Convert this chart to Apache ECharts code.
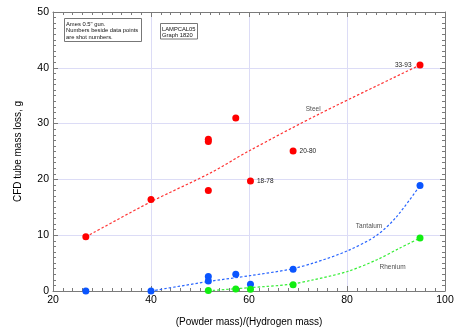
<!DOCTYPE html>
<html>
<head>
<meta charset="utf-8">
<script src="https://cdn.jsdelivr.net/npm/echarts@6/dist/echarts.min.js"></script>
<style>
html,body{margin:0;padding:0;background:#fff;}
#c{width:467px;height:334px;}
</style>
</head>
<body>
<div id="c"></div>
<script>
// ---- data ----
var steelX = [26.7, 40, 51.7, 51.7, 51.7, 57.3, 60.3, 69, 94.9];
var steelY = [9.7, 16.4, 18.0, 26.8, 27.2, 31.0, 19.7, 25.1, 40.5];
var steelShot = ['', '', '', '', '', '', '18-78', '20-80', '33-93'];

var tantalumX = [26.7, 40, 51.7, 51.7, 57.3, 60.3, 69, 94.9];
var tantalumY = [0, 0, 2.6, 1.8, 3.0, 1.2, 3.9, 18.9];

var rheniumX = [51.7, 57.3, 60.3, 69, 94.9];
var rheniumY = [0.1, 0.35, 0.3, 1.1, 9.5];

var steelFitX = [26.7, 40, 52, 60, 74.5, 94.9];
var steelFitY = [9.7, 16.0, 21.1, 25.1, 31.8, 40.5];
var tantalumFitX = [40, 51.7, 60.2, 68.4, 73.1, 80.1, 86.1, 90.1, 94.9];
var tantalumFitY = [0, 1.7, 2.75, 3.9, 5.0, 7.2, 10.0, 13.3, 18.9];
var rheniumFitX = [51.7, 60.2, 68.4, 73.1, 80.1, 86.1, 90.8, 94.9];
var rheniumFitY = [0.05, 0.6, 1.2, 2.0, 3.5, 5.6, 7.7, 9.5];

var curveNames = ['Steel', 'Tantalum', 'Rhenium'];
var curveLabelX = [73.1, 84.5, 89.3];
var curveLabelY = [32.6, 11.65, 4.35];

var xTicks = [20, 40, 60, 80, 100];
var yTicks = [0, 10, 20, 30, 40, 50];

var noteLines = ['Ames 0.5" gun.', 'Numbers beside data points', 'are shot numbers.'];
var graphLines = ['LAMPCAL05', 'Graph 1820'];

// ---- build ----
function zip(xs, ys) { return xs.map(function (x, i) { return [x, ys[i]]; }); }

var FONT = '"Liberation Sans", Arial, Helvetica, sans-serif';
var AXC = '#7a7a7a';
var RED = '#ff0000', BLUE = '#0a55ff', GREEN = '#11ee11';

function xAxisCfg(pos, labels) {
  return {
    type: 'value', position: pos, min: xTicks[0], max: xTicks[xTicks.length - 1], interval: 20,
    axisLine: { show: true, onZero: false, lineStyle: { color: AXC, width: 1 } },
    axisTick: { show: true, inside: true, length: 5, lineStyle: { color: AXC } },
    minorTick: { show: true, splitNumber: 10, length: 3, lineStyle: { color: AXC } },
    axisLabel: { show: labels, color: '#000', fontSize: 10.5, fontFamily: FONT, margin: 4 },
    splitLine: { show: labels, lineStyle: { color: '#dcdcf6', width: 1 } },
    name: labels ? '(Powder mass)/(Hydrogen mass)' : '',
    nameLocation: 'middle', nameGap: 26,
    nameTextStyle: { color: '#000', fontSize: 10, fontFamily: FONT }
  };
}
function yAxisCfg(pos, labels) {
  return {
    type: 'value', position: pos, min: yTicks[0], max: yTicks[yTicks.length - 1], interval: 10,
    axisLine: { show: true, onZero: false, lineStyle: { color: AXC, width: 1 } },
    axisTick: { show: true, inside: true, length: 5, lineStyle: { color: AXC } },
    minorTick: { show: true, splitNumber: 10, length: 3, lineStyle: { color: AXC } },
    axisLabel: { show: labels, color: '#000', fontSize: 10.5, fontFamily: FONT, margin: 4 },
    splitLine: { show: labels, lineStyle: { color: '#dcdcf6', width: 1 } },
    name: labels ? 'CFD tube mass loss, g' : '',
    nameLocation: 'middle', nameGap: 30,
    nameTextStyle: { color: '#000', fontSize: 10, fontFamily: FONT }
  };
}

function fit(name, xs, ys, color) {
  return {
    name: name, type: 'line', data: zip(xs, ys), smooth: 0.3,
    showSymbol: false, symbol: 'none', silent: true, z: 2,
    lineStyle: { color: color, width: 1.2, type: [2.5, 2] }
  };
}
function pts(name, xs, ys, color, labels) {
  return {
    name: name, type: 'scatter', symbolSize: 7, z: 3,
    itemStyle: { color: color, opacity: 1 },
    data: zip(xs, ys).map(function (p, i) {
      var d = { value: p };
      if (labels && labels[i]) {
        var left = p[0] > 90;
        d.label = {
          show: true, formatter: labels[i], position: left ? 'left' : 'right',
          distance: left ? 5 : 3, color: '#222', fontSize: 6.5, fontFamily: FONT
        };
      }
      return d;
    })
  };
}

var labelSeries = {
  type: 'scatter', symbolSize: 0, silent: true, z: 4,
  data: curveNames.map(function (n, i) {
    return {
      value: [curveLabelX[i], curveLabelY[i]],
      label: { show: true, position: 'inside', formatter: n, color: '#222', fontSize: 6.5, fontFamily: FONT }
    };
  })
};

function textBox(lines, x, y, w, h) {
  var children = [{
    type: 'rect', shape: { x: x, y: y, width: w, height: h },
    style: { fill: '#fff', stroke: '#777', lineWidth: 1 }
  }];
  lines.forEach(function (t, i) {
    children.push({
      type: 'text', x: x + 1.5, y: y + 2.5 + i * 6.6,
      style: { text: t, fill: '#111', font: '5.8px ' + FONT, textVerticalAlign: 'top' }
    });
  });
  return { type: 'group', children: children };
}

var chart = echarts.init(document.getElementById('c'), null, { renderer: 'canvas' });
chart.setOption({
  backgroundColor: '#fff',
  animation: false,
  grid: { left: 53, right: 22, top: 12, bottom: 43, containLabel: false },
  xAxis: [xAxisCfg('bottom', true), xAxisCfg('top', false)],
  yAxis: [yAxisCfg('left', true), yAxisCfg('right', false)],
  series: [
    fit('Steel fit', steelFitX, steelFitY, '#ff3333'),
    fit('Tantalum fit', tantalumFitX, tantalumFitY, '#2a66ff'),
    fit('Rhenium fit', rheniumFitX, rheniumFitY, '#33ee33'),
    pts('Steel', steelX, steelY, RED, steelShot),
    pts('Tantalum', tantalumX, tantalumY, BLUE),
    pts('Rhenium', rheniumX, rheniumY, GREEN),
    labelSeries
  ],
  graphic: [
    textBox(noteLines, 64.5, 18.5, 77, 23),
    textBox(graphLines, 160.5, 23.5, 37, 15.5)
  ]
});
</script>
</body>
</html>
